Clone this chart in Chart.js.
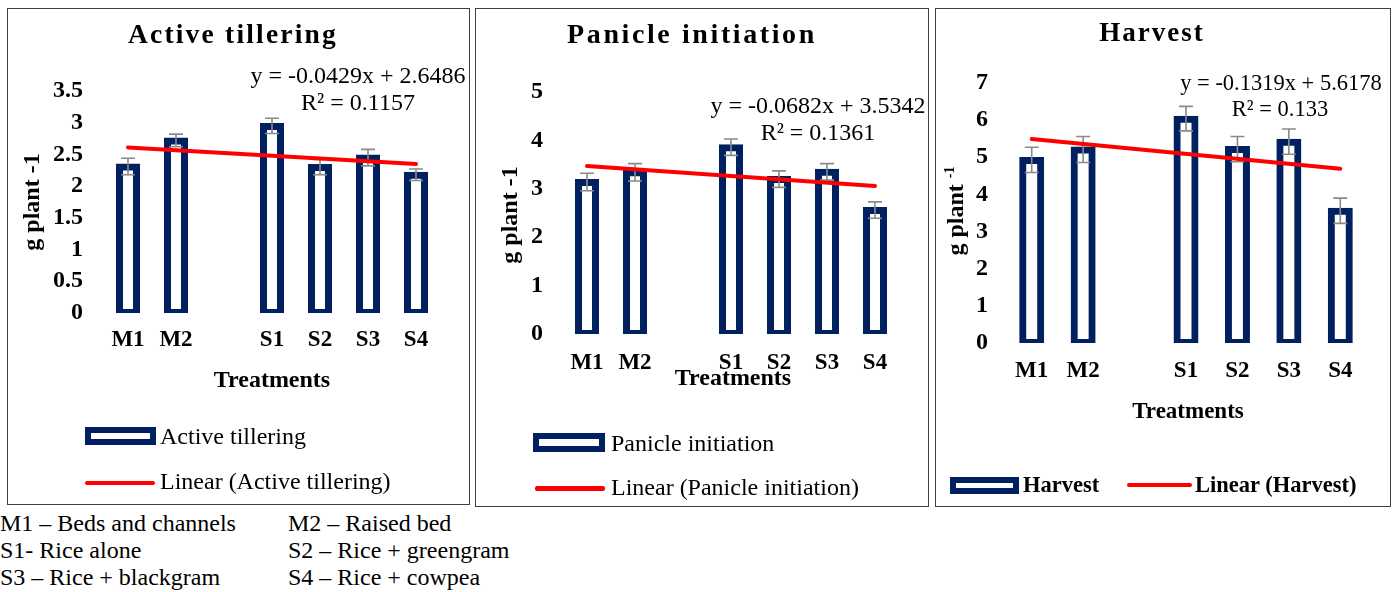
<!DOCTYPE html>
<html>
<head>
<meta charset="utf-8">
<script src="https://cdn.jsdelivr.net/npm/chart.js@4.4.1/dist/chart.umd.min.js"></script>
<style>
  body { margin: 0; background: #fff; }
  #page { position: relative; width: 1397px; height: 592px; overflow: hidden; font-family: 'Liberation Serif', 'Times New Roman', serif; }
  .frame { position: absolute; border: 1px solid #3f3f3f; box-sizing: border-box; pointer-events: none; }
  canvas { position: absolute; }
  .t { position: absolute; white-space: nowrap; line-height: 1; color: #000; }
  .box { position: absolute; box-sizing: border-box; border: 6px solid #002060; background: #fff; }
  .red { position: absolute; background: #ff0000; border-radius: 2px; }
</style>
</head>
<body>
<div id="page">
  <canvas id="c1" width="462" height="497" style="left:7px;top:8px"></canvas>
  <canvas id="c2" width="453" height="497" style="left:475px;top:8px"></canvas>
  <canvas id="c3" width="455" height="497" style="left:935px;top:8px"></canvas>
  <div class="frame" style="left:7px;top:8px;width:463px;height:497px"></div>
  <div class="frame" style="left:475px;top:8px;width:454px;height:499px"></div>
  <div class="frame" style="left:935px;top:8px;width:456px;height:499px"></div>

  <div class="box" style="left:85px;top:427px;width:71px;height:18px"></div>
  <div class="red" style="left:85px;top:481px;width:70px;height:4px"></div>
  <div class="box" style="left:533px;top:433px;width:72px;height:19px"></div>
  <div class="red" style="left:535px;top:486px;width:70px;height:5px"></div>
  <div class="box" style="left:950px;top:477px;width:69px;height:17px"></div>
  <div class="red" style="left:1127px;top:483px;width:65px;height:4px"></div>
</div>
<script>
var treatments = ['M1', 'M2', '', 'S1', 'S2', 'S3', 'S4'];

var tilleringValues = [2.31, 2.72, null, 2.95, 2.30, 2.45, 2.18];
var tilleringErrors = [0.13, 0.10, null, 0.12, 0.12, 0.13, 0.09];
var tilleringTrend = [2.61, 2.35];
var tilleringTicks = [0, 0.5, 1, 1.5, 2, 2.5, 3, 3.5];

var panicleValues = [3.14, 3.34, null, 3.86, 3.20, 3.35, 2.56];
var panicleErrors = [0.18, 0.18, null, 0.17, 0.17, 0.17, 0.17];
var panicleTrend = [3.47, 3.06];
var panicleTicks = [0, 1, 2, 3, 4, 5];

var harvestValues = [4.93, 5.21, null, 6.04, 5.22, 5.42, 3.56];
var harvestErrors = [0.34, 0.35, null, 0.33, 0.34, 0.34, 0.34];
var harvestTrend = [5.49, 4.69];
var harvestTicks = [0, 1, 2, 3, 4, 5, 6, 7];

var serif = "'Liberation Serif', 'Times New Roman', serif";

// gray error bars, drawn right after the bars so the trend line stays on top
function errorBars(errs) {
  return {
    id: 'errorBars',
    afterDatasetDraw: function(chart, args) {
      if (args.index !== 0) return;
      var ctx = chart.ctx, y = chart.scales.y;
      var vals = chart.data.datasets[0].data;
      ctx.save();
      ctx.strokeStyle = '#8a8a8a';
      ctx.lineWidth = 1.6;
      args.meta.data.forEach(function(bar, i) {
        if (vals[i] == null) return;
        var top = y.getPixelForValue(vals[i] + errs[i]);
        var bot = y.getPixelForValue(vals[i] - errs[i]);
        ctx.beginPath();
        ctx.moveTo(bar.x, top); ctx.lineTo(bar.x, bot);
        ctx.moveTo(bar.x - 7, top); ctx.lineTo(bar.x + 7, top);
        ctx.moveTo(bar.x - 7, bot); ctx.lineTo(bar.x + 7, bot);
        ctx.stroke();
      });
      ctx.restore();
    }
  };
}

function makeChart(id, values, errs, trend, ticks, box) {
  var last = treatments.length - 1;
  var trendData = treatments.map(function(c, i) {
    return i === 0 ? trend[0] : (i === last ? trend[1] : null);
  });
  return new Chart(document.getElementById(id), {
    type: 'bar',
    data: {
      labels: treatments,
      datasets: [{
        type: 'bar',
        data: values,
        backgroundColor: '#ffffff',
        borderColor: '#002060',
        borderWidth: 7,
        borderSkipped: false,
        inflateAmount: 3,   // border sits across the bar edge, like the original
        barThickness: box.bar,
        order: 1
      }, {
        type: 'line',
        data: trendData,
        borderColor: '#ff0000',
        borderWidth: 4,
        borderCapStyle: 'round',
        pointRadius: 0,
        spanGaps: true,
        fill: false,
        order: 0
      }]
    },
    options: {
      responsive: false,
      animation: false,
      layout: { padding: { left: box.left, right: box.right, top: box.top, bottom: box.bottom } },
      plugins: { legend: { display: false }, tooltip: { enabled: false } },
      scales: {
        x: {
          grid: { display: false, drawTicks: false },
          border: { display: false },
          ticks: { color: '#000', padding: box.xPad, font: { family: serif, size: 23, weight: 'bold' } },
          afterFit: function(s) { s.height = 40; }
        },
        y: {
          min: 0,
          max: ticks[ticks.length - 1],
          grid: { display: false, drawTicks: false },
          border: { display: false },
          ticks: {
            color: '#000', padding: box.yPad, autoSkip: false,
            font: { family: serif, size: 24, weight: 'bold' },
            callback: function(v) { return String(v); }
          },
          afterBuildTicks: function(s) { s.ticks = ticks.map(function(v) { return { value: v }; }); },
          afterFit: function(s) { s.width = 60; }
        }
      }
    },
    plugins: [errorBars(errs)]
  });
}

makeChart('c1', tilleringValues, tilleringErrors, tilleringTrend, tilleringTicks,
  { left: 37, right: 29, top: 83, bottom: 152, bar: 18, xPad: 13, yPad: 21 });
makeChart('c2', panicleValues, panicleErrors, panicleTrend, panicleTicks,
  { left: 28, right: 29, top: 84, bottom: 131, bar: 18, xPad: 15, yPad: 20 });
makeChart('c3', harvestValues, harvestErrors, harvestTrend, harvestTicks,
  { left: 11, right: 24, top: 75, bottom: 122, bar: 19, xPad: 14, yPad: 18 });

// text: x, baseline, size, options
var page = document.getElementById('page');
function txt(html, x, base, size, o) {
  o = o || {};
  var d = document.createElement('div');
  d.className = 't';
  d.innerHTML = html;
  d.style.fontSize = size + 'px';
  d.style.top = (base - 0.8375 * size) + 'px';
  d.style.left = x + 'px';
  if (o.bold) d.style.fontWeight = 'bold';
  if (o.ls) d.style.letterSpacing = o.ls + 'px';
  if (o.center) d.style.transform = 'translateX(-50%)';
  page.appendChild(d);
}
function vtxt(html, cx, cy, size) {
  var d = document.createElement('div');
  d.className = 't';
  d.innerHTML = html;
  d.style.fontSize = size + 'px';
  d.style.fontWeight = 'bold';
  d.style.left = cx + 'px';
  d.style.top = cy + 'px';
  d.style.transform = 'translate(-50%, -50%) rotate(-90deg)';
  page.appendChild(d);
}

txt('Active tillering', 233, 43, 27.5, { bold: true, ls: 2.2, center: true });
txt('Panicle initiation', 692, 43, 28, { bold: true, ls: 2.6, center: true });
txt('Harvest', 1152, 42, 27, { bold: true, ls: 2, center: true });

txt('y = -0.0429x + 2.6486', 358, 83, 24, { center: true });
txt('R² = 0.1157', 358, 110, 24, { center: true });
txt('y = -0.0682x + 3.5342', 818, 113, 24, { center: true });
txt('R² = 0.1361', 818, 140, 24, { center: true });
txt('y = -0.1319x + 5.6178', 1281, 91, 22.5, { center: true });
txt('R² = 0.133', 1280, 117, 22.5, { center: true });

vtxt('g plant -1', 31, 202, 24);
vtxt('g plant -1', 509, 215, 24);
vtxt('g plant <sup style="font-size:14px;vertical-align:9px">-1</sup>', 955, 211, 24);

txt('Treatments', 272, 387, 24, { bold: true, center: true });
txt('Treatments', 733, 385, 24, { bold: true, center: true });
txt('Treatments', 1188, 418, 23, { bold: true, center: true });

txt('Active tillering', 160, 444, 24);
txt('Linear (Active tillering)', 160, 489, 24);
txt('Panicle initiation', 611, 451, 24);
txt('Linear (Panicle initiation)', 611, 495, 24);
txt('Harvest', 1023, 493, 22.5, { bold: true });
txt('Linear (Harvest)', 1195, 493, 22.5, { bold: true });

txt('M1 – Beds and channels', 0, 531, 24);
txt('M2 – Raised bed', 288, 531, 24);
txt('S1- Rice alone', 0, 558, 24);
txt('S2 – Rice + greengram', 288, 558, 24);
txt('S3 – Rice + blackgram', 0, 585, 24);
txt('S4 – Rice + cowpea', 288, 585, 24);
</script>
</body>
</html>
